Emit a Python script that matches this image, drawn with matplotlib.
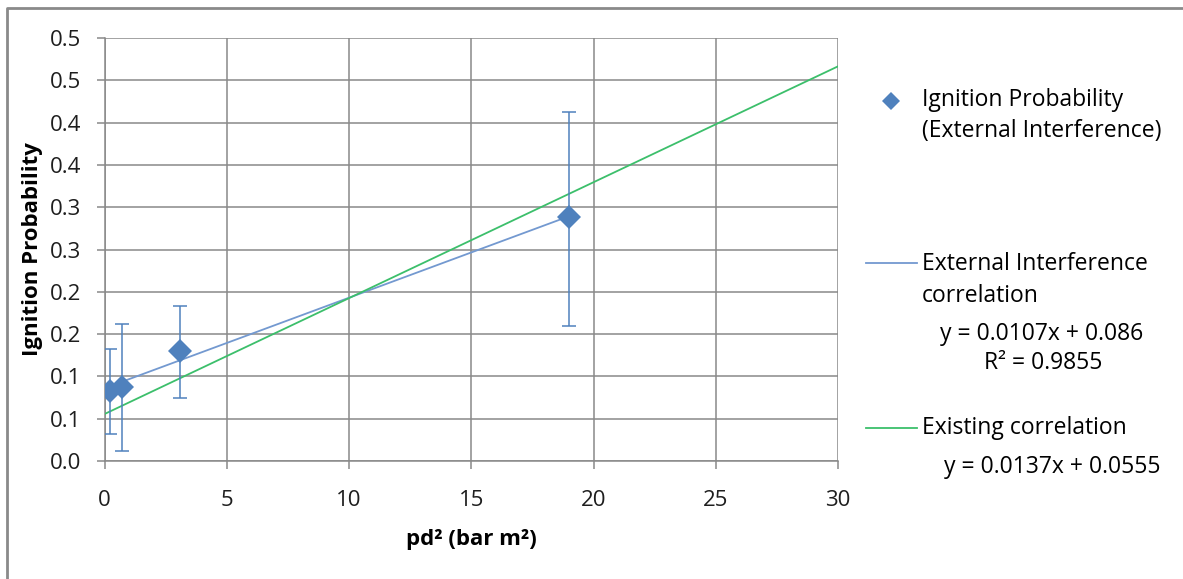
import matplotlib
matplotlib.use("Agg")
import matplotlib.pyplot as plt
from matplotlib.lines import Line2D
import numpy as np

plt.rcParams['font.family'] = ['Open Sans', 'DejaVu Sans']

# Data
pd2 = [0.22, 0.71, 3.07, 19.0]
ignition_prob = [0.083, 0.087, 0.130, 0.288]
err_low = [0.032, 0.012, 0.0745, 0.159]
err_high = [0.132, 0.162, 0.183, 0.412]

# Trendlines (slope, intercept)
ext_slope, ext_intercept = 0.0107, 0.086
exist_slope, exist_intercept = 0.0137, 0.0555

x_ticks = [0, 5, 10, 15, 20, 25, 30]
y_ticks = [0.0, 0.05, 0.10, 0.15, 0.20, 0.25, 0.30, 0.35, 0.40, 0.45, 0.50]
y_ticklabels = ['0.0', '0.1', '0.1', '0.2', '0.2', '0.3', '0.3', '0.4', '0.4', '0.5', '0.5']

BLUE = '#4F81BD'
TREND_BLUE = '#7399D0'
GREEN = '#3CBF6B'
GRID = '#898989'

W, H = 1183, 579
fig = plt.figure(figsize=(W / 100, H / 100), dpi=100)
ax = fig.add_axes([104.5 / W, 1 - 461 / H, (838 - 104.5) / W, (461 - 38) / H])

x = np.array(pd2)
y = np.array(ignition_prob)
yerr = np.vstack([y - np.array(err_low), np.array(err_high) - y])

# trendlines
xs = np.linspace(x.min(), x.max(), 50)
ax.plot(xs, ext_slope * xs + ext_intercept, color=TREND_BLUE, lw=1.3, zorder=3)
xe = np.linspace(0, 30, 50)
ax.plot(xe, exist_slope * xe + exist_intercept, color=GREEN, lw=1.3, zorder=3)

ax.errorbar(x, y, yerr=yerr, fmt='none', ecolor=BLUE, elinewidth=1.1,
            capsize=4.7, capthick=1.1, zorder=4)
ax.plot(x, y, 'D', color=BLUE, markersize=12, markeredgewidth=0, zorder=5)

ax.set_xlim(0, 30)
ax.set_ylim(0, 0.5)
ax.set_xticks(x_ticks)
ax.set_yticks(y_ticks)
ax.set_yticklabels(y_ticklabels)
ax.grid(True, color=GRID, lw=1.1)
ax.set_axisbelow(True)
for s in ['top', 'right']:
    ax.spines[s].set_visible(False)
for s in ['left', 'bottom']:
    ax.spines[s].set_color(GRID)
    ax.spines[s].set_linewidth(1.1)
ax.tick_params(axis='both', colors=GRID, length=6, width=1.1, labelcolor='#1E1E1E', labelsize=16)
ax.tick_params(axis='y', pad=11)
ax.tick_params(axis='x', pad=15)

ax.set_xlabel('pd² (bar m²)', fontsize=16, fontweight='bold', labelpad=13)
ax.set_ylabel('Ignition Probability', fontsize=16, fontweight='bold', labelpad=5)

# Legend (manual, Excel-like)
def fx(px):
    return px / W

def fy(py):
    return 1 - py / H

fs = 16.5
fig.add_artist(Line2D([fx(891)], [fy(101)], marker='D', color=BLUE, markersize=9.5,
                      markeredgewidth=0, linestyle='none', transform=fig.transFigure))
fig.text(fx(922), fy(100), 'Ignition Probability', fontsize=fs, va='center', ha='left')
fig.text(fx(922), fy(131), '(External Interference)', fontsize=fs, va='center', ha='left')

fig.add_artist(Line2D([fx(866), fx(917)], [fy(263), fy(263)], color=TREND_BLUE, lw=1.3,
                      transform=fig.transFigure))
fig.text(fx(922), fy(264), 'External Interference', fontsize=fs, va='center', ha='left')
fig.text(fx(922), fy(296), 'correlation', fontsize=fs, va='center', ha='left')
fig.text(fx(1042), fy(334), 'y = 0.0107x + 0.086', fontsize=fs, va='center', ha='center')
fig.text(fx(1043), fy(363), 'R² = 0.9855', fontsize=fs, va='center', ha='center')

fig.add_artist(Line2D([fx(866), fx(917)], [fy(428), fy(428)], color=GREEN, lw=1.3,
                      transform=fig.transFigure))
fig.text(fx(922), fy(428), 'Existing correlation', fontsize=fs, va='center', ha='left')
fig.text(fx(1052), fy(467), 'y = 0.0137x + 0.0555', fontsize=fs, va='center', ha='center')

# outer chart border (top and left visible)
fig.add_artist(Line2D([fx(7), fx(7), fx(W + 5)], [fy(H + 5), fy(7.5), fy(7.5)],
                      color='#8A8A8A', lw=2, transform=fig.transFigure))

fig.savefig('out.png', dpi=100)
